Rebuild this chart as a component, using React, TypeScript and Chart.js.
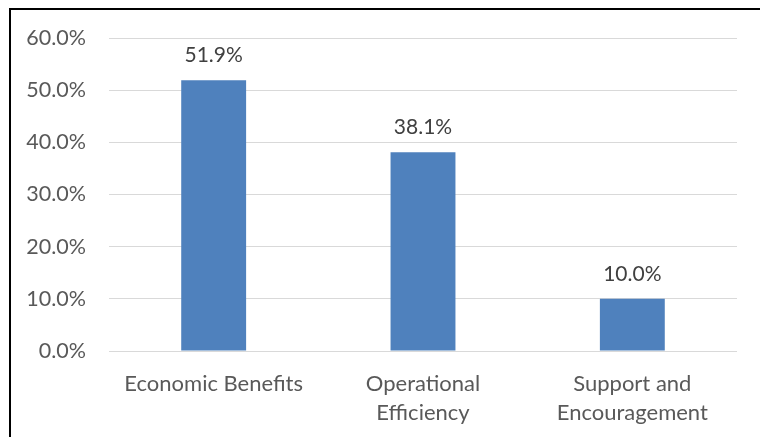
import React, { useEffect, useRef } from "react";
import { Chart, registerables } from "chart.js";

Chart.register(...registerables);

const categories: (string | string[])[] = [
  "Economic Benefits",
  ["Operational", "Efficiency"],
  ["Support and", "Encouragement"],
];
const values: number[] = [51.9, 38.1, 10.0];
const yTicks: number[] = [0, 10, 20, 30, 40, 50, 60];

const FONT = "Lato, 'Open Sans', sans-serif";
const TEXT = "#595959";

const dataLabelPlugin = {
  id: "dataLabels",
  afterDatasetsDraw(chart: any) {
    const ctx = chart.ctx;
    const meta = chart.getDatasetMeta(0);
    ctx.save();
    ctx.font = `21px ${FONT}`;
    ctx.fillStyle = "#404040";
    ctx.textAlign = "center";
    ctx.textBaseline = "middle";
    meta.data.forEach((bar: any, i: number) => {
      const v = chart.data.datasets[0].data[i] as number;
      ctx.fillText(v.toFixed(1) + "%", bar.x, bar.y - 25);
    });
    ctx.restore();
  },
};

export default function App() {
  const ref = useRef<HTMLCanvasElement | null>(null);
  useEffect(() => {
    if (!ref.current) return;
    const chart = new Chart(ref.current, {
      type: "bar",
      data: {
        labels: categories,
        datasets: [
          {
            data: values,
            backgroundColor: "#4F81BD",
            borderWidth: 0,
            categoryPercentage: 1,
            barPercentage: 0.31,
          },
        ],
      },
      options: {
        responsive: false,
        animation: false,
        layout: { padding: { top: 38, right: 23, left: 0, bottom: 0 } },
        plugins: { legend: { display: false }, tooltip: { enabled: false } },
        scales: {
          x: {
            grid: { display: false, drawTicks: false },
            border: { display: false },
            ticks: {
              color: TEXT,
              font: { family: FONT, size: 22, lineHeight: 1.32 },
              padding: 18,
              maxRotation: 0,
              autoSkip: false,
            },
            afterFit: (s: any) => {
              s.height = 437 - 351;
            },
          },
          y: {
            min: 0,
            max: 60,
            afterBuildTicks: (s: any) => {
              s.ticks = yTicks.map((v) => ({ value: v }));
            },
            grid: { color: "#d9d9d9", lineWidth: 1, drawTicks: false },
            border: { display: false },
            ticks: {
              color: TEXT,
              font: { family: FONT, size: 21.5 },
              padding: 23,
              callback: (v: any) => Number(v).toFixed(1) + "%",
            },
            afterFit: (s: any) => {
              s.width = 109;
            },
          },
        },
      },
      plugins: [dataLabelPlugin],
    });
    return () => chart.destroy();
  }, []);

  return (
    <div style={{ position: "absolute", left: 0, top: 0, width: 760, height: 437, overflow: "hidden", background: "#fff" }}>
      <canvas ref={ref} width={760} height={437} style={{ position: "absolute", left: 0, top: 0, width: 760, height: 437 }} />
      <div
        style={{
          position: "absolute",
          left: 9,
          top: 8,
          width: 800,
          height: 500,
          borderLeft: "2px solid #000",
          borderTop: "2px solid #000",
          pointerEvents: "none",
        }}
      />
    </div>
  );
}
